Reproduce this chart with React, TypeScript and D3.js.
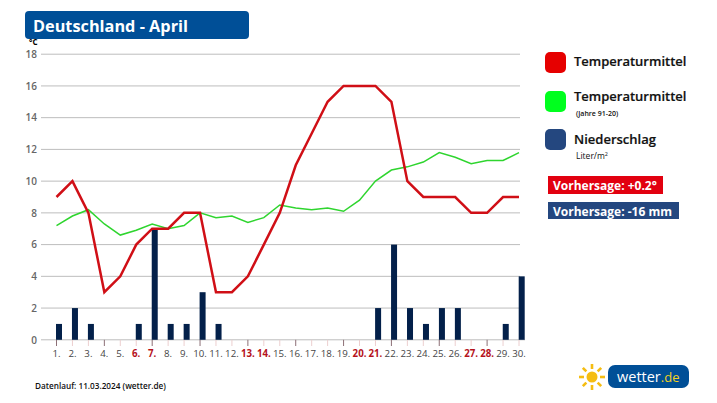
import React, { useEffect, useRef } from 'react'
import * as d3 from 'd3'

const days = d3.range(1, 31)
const weekendDays = [6, 7, 13, 14, 20, 21, 27, 28]
const tempForecast = [9, 10, 8, 3, 4, 6, 7, 7, 8, 8, 3, 3, 4, 6, 8, 11, 13, 15, 16, 16, 16, 15, 10, 9, 9, 9, 8, 8, 9, 9]
const tempNormal = [7.2, 7.8, 8.2, 7.3, 6.6, 6.9, 7.3, 7, 7.2, 8, 7.7, 7.8, 7.4, 7.7, 8.5, 8.3, 8.2, 8.3, 8.1, 8.8, 10, 10.7, 10.9, 11.2, 11.8, 11.5, 11.1, 11.3, 11.3, 11.8]
const rain = [1, 2, 1, 0, 0, 1, 7, 1, 1, 3, 1, 0, 0, 0, 0, 0, 0, 0, 0, 0, 2, 6, 2, 1, 2, 2, 0, 0, 1, 4]
const yTicks = [0, 2, 4, 6, 8, 10, 12, 14, 16, 18]

const font = '"Open Sans", sans-serif'

export default function App() {
  const svgRef = useRef<SVGSVGElement>(null)

  useEffect(() => {
    if (!svgRef.current) return
    const svg = d3.select(svgRef.current)
    svg.selectAll('*').remove()

    const y = d3.scaleLinear().domain([0, 18]).range([339.8, 54.2])
    // bars sit a bit to the right of the ticks in the original
    const xBar = d3.scaleLinear().domain([1, 30]).range([59, 521.7])
    const x = d3.scaleLinear().domain([1, 30]).range([56.5, 519])

    // Title
    svg.append('rect').attr('x', 25).attr('y', 11).attr('width', 224).attr('height', 28).attr('rx', 4).attr('fill', '#004f97')
    svg.append('text').attr('x', 33).attr('y', 31.5).attr('font-size', 16.3).attr('font-weight', 700).attr('fill', '#fff').text('Deutschland - April')

    // Grid
    svg.append('g').selectAll('line').data(yTicks).enter().append('line')
      .attr('x1', 41).attr('x2', d => (d === 0 ? 525 : 520))
      .attr('y1', d => y(d)).attr('y2', d => y(d))
      .attr('stroke', '#bdbdbd').attr('stroke-width', 1)

    svg.append('g').selectAll('text').data(yTicks).enter().append('text')
      .attr('x', 37).attr('y', d => y(d) + 3.8).attr('text-anchor', 'end')
      .attr('font-size', 10).attr('font-weight', 600).attr('fill', '#666').text(d => d)
    svg.append('text').attr('x', 29).attr('y', 45).attr('font-size', 8).attr('font-weight', 700).attr('fill', '#000').text('°C')

    // Day ticks + labels, every third tick is darker
    svg.append('g').selectAll('line').data(days).enter().append('line')
      .attr('x1', d => x(d)).attr('x2', d => x(d)).attr('y1', 339.8).attr('y2', 346)
      .attr('stroke', d => ((d - 1) % 3 === 0 ? '#8c6f76' : '#eccfcf')).attr('stroke-width', 1)
    svg.append('g').selectAll('text').data(days).enter().append('text')
      .attr('x', d => x(d)).attr('y', 356.5).attr('text-anchor', 'middle')
      .attr('font-size', 9.7)
      .attr('font-weight', d => (weekendDays.includes(d) ? 700 : 500))
      .attr('fill', d => (weekendDays.includes(d) ? '#b5121b' : '#444'))
      .text(d => `${d}.`)

    // Rain bars
    svg.append('g').selectAll('rect').data(rain).enter().append('rect')
      .attr('x', (_, i) => xBar(days[i]) - 3).attr('width', 6)
      .attr('y', d => y(d)).attr('height', d => y(0) - y(d))
      .attr('fill', '#03204a')

    // Lines
    const line = d3.line<number>().x((_, i) => x(days[i])).y(d => y(d))
    svg.append('path').datum(tempNormal).attr('d', line).attr('fill', 'none').attr('stroke', '#2fd52f').attr('stroke-width', 1.5)
    svg.append('path').datum(tempForecast).attr('d', line).attr('fill', 'none').attr('stroke', '#d00f16').attr('stroke-width', 2.5)

    // Legend
    const swatches = [
      { y: 52, color: '#e60000' },
      { y: 91, color: '#00ff1e' },
      { y: 129, color: '#24477f' },
    ]
    svg.append('g').selectAll('rect').data(swatches).enter().append('rect')
      .attr('x', 545).attr('y', d => d.y).attr('width', 21).attr('height', 21).attr('rx', 5).attr('fill', d => d.color)
    const legendText = [
      { y: 65.5, label: 'Temperaturmittel' },
      { y: 100.5, label: 'Temperaturmittel' },
      { y: 144, label: 'Niederschlag' },
    ]
    svg.append('g').selectAll('text').data(legendText).enter().append('text')
      .attr('x', 574).attr('y', d => d.y).attr('font-size', 13).attr('font-weight', 600).attr('stroke', '#111').attr('stroke-width', 0.2).attr('fill', '#111').text(d => d.label)
    svg.append('text').attr('x', 576).attr('y', 116).attr('font-size', 7).attr('font-weight', 600).attr('fill', '#111').text('(Jahre 91-20)')
    const liter = svg.append('text').attr('x', 576).attr('y', 159).attr('font-size', 8.5).attr('fill', '#111').text('Liter/m')
    liter.append('tspan').attr('font-size', 5.5).attr('dy', -3).text('2')

    // Forecast boxes
    svg.append('rect').attr('x', 548).attr('y', 176).attr('width', 115).attr('height', 18).attr('fill', '#e2000f')
    svg.append('text').attr('x', 553).attr('y', 190).attr('font-size', 12).attr('font-weight', 700).attr('fill', '#fff').text('Vorhersage: +0.2°')
    svg.append('rect').attr('x', 548).attr('y', 202).attr('width', 131).attr('height', 17).attr('fill', '#24477f')
    svg.append('text').attr('x', 553).attr('y', 215.5).attr('font-size', 12).attr('font-weight', 700).attr('fill', '#fff').text('Vorhersage: -16 mm')

    svg.append('text').attr('x', 35).attr('y', 389).attr('font-size', 8.2).attr('font-weight', 600).attr('fill', '#111').text('Datenlauf: 11.03.2024 (wetter.de)')

    // Logo
    const sun = svg.append('g').attr('transform', 'translate(592,377)')
    sun.append('circle').attr('r', 5.5).attr('fill', '#f5bd12')
    sun.selectAll('line').data(d3.range(8)).enter().append('line')
      .attr('x1', d => Math.cos(d * Math.PI / 4) * 8).attr('y1', d => Math.sin(d * Math.PI / 4) * 8)
      .attr('x2', d => Math.cos(d * Math.PI / 4) * 13).attr('y2', d => Math.sin(d * Math.PI / 4) * 13)
      .attr('stroke', '#f5bd12').attr('stroke-width', 2.6)
    svg.append('rect').attr('x', 608).attr('y', 365).attr('width', 81).attr('height', 23).attr('rx', 7).attr('fill', '#004f97')
    const logo = svg.append('text').attr('x', 617).attr('y', 382).attr('font-size', 14.5).attr('fill', '#fff').text('wetter')
    logo.append('tspan').attr('fill', '#f4d21f').attr('font-size', 13).text('.de')
  }, [])

  return (
    <svg
      ref={svgRef}
      width={717}
      height={403}
      style={{ position: 'fixed', left: 0, top: 0, fontFamily: font, background: '#fff' }}
    />
  )
}
